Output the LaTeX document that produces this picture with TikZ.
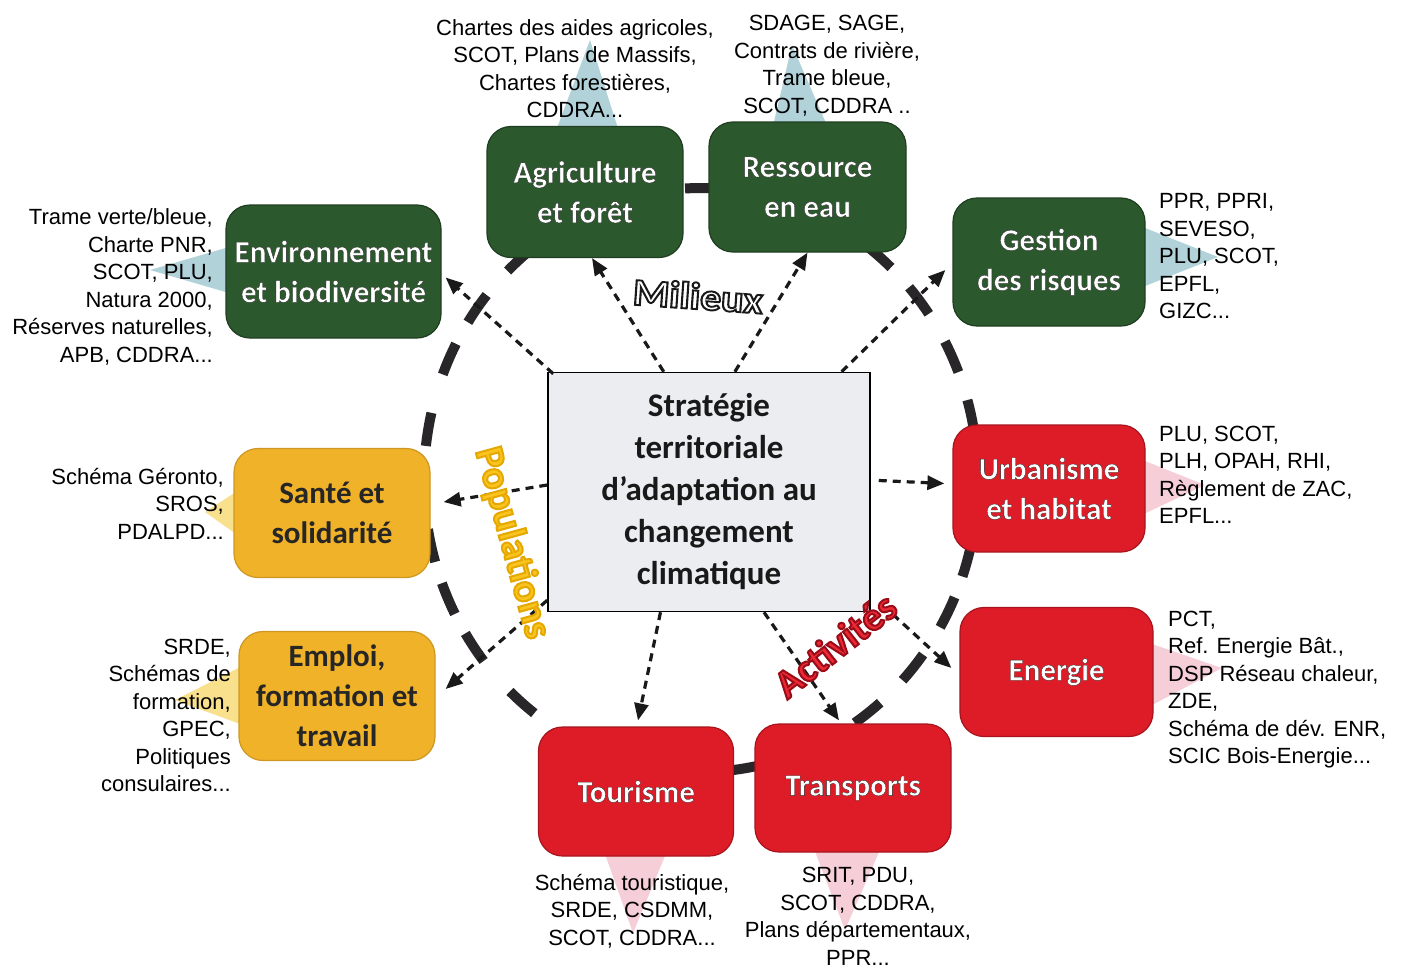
\documentclass[tikz,border=0pt]{standalone}
\usepackage{fontspec}
\setmainfont{Liberation Sans}
\newfontfamily\carl{Carlito}
\newfontfamily\lblfont{Carlito}[BoldFeatures={FakeBold=5}]
\newfontfamily\nfont{Carlito}[BoldFeatures={FakeBold=1}]
\usetikzlibrary{arrows.meta,calc}
\definecolor{grn}{RGB}{44,88,46}
\definecolor{rd}{RGB}{222,28,40}
\definecolor{ylw}{RGB}{240,178,40}
\definecolor{cblue}{RGB}{178,210,218}
\definecolor{cpink}{RGB}{246,206,216}
\definecolor{cyel}{RGB}{249,224,140}
\definecolor{cfill}{RGB}{236,237,241}
\definecolor{dashc}{RGB}{40,38,40}
\newcommand\strk[1]{\special{pdf:literal direct #1 RG}}
\newcommand\wo[1]{\strk{0.15 0.15 0.15}#1}
\begin{document}
\begin{tikzpicture}[x=1pt,y=-1pt,
  nbox/.style={rounded corners=24pt, line width=1.2pt, inner sep=2pt, align=center,
    font=\carl\bfseries\fontsize{31}{40}\selectfont},
  gbox/.style={nbox, fill=grn, draw=grn!70!black, text=white, font=\nfont\bfseries\fontsize{31}{40}\selectfont},
  rbox/.style={nbox, fill=rd, draw=rd!75!black, text=white, font=\nfont\bfseries\fontsize{31}{40}\selectfont},
  ybox/.style={nbox, fill=ylw, draw=ylw!85!black, text=black!85},
  ctext/.style={font=\fontsize{22}{27.5}\selectfont, inner sep=0pt, text=black},
  arr/.style={line width=3.2pt, draw=black!90, dash pattern=on 8pt off 6pt,
    -{Triangle[length=17pt,width=14pt]}},
  dsh/.style={line width=10pt, draw=dashc},
  callb/.style={fill=cblue},
  callp/.style={fill=cpink},
  cally/.style={fill=cyel}]
\useasboundingbox (0,0) rectangle (1401,969);
\fill[white] (0,0) rectangle (1401,969);

% callout wedges
\fill[callb] (545,160) -- (628,160) -- (590,40) -- cycle;
\fill[callb] (765,160) -- (842,160) -- (792,45) -- cycle;
\fill[callb] (260,238) -- (260,302) -- (150,270) -- cycle;
\fill[callb] (1110,214) -- (1110,300) -- (1218,257) -- cycle;
\fill[callp] (1110,447) -- (1110,530) -- (1205,485) -- cycle;
\fill[callp] (1120,633) -- (1120,722) -- (1222,668) -- cycle;
\fill[callp] (593,820) -- (680,820) -- (633,933) -- cycle;
\fill[callp] (803,820) -- (893,820) -- (845,930) -- cycle;
\fill[cally] (270,470) -- (270,558) -- (205,512) -- cycle;
\fill[cally] (270,652) -- (270,735) -- (175,700) -- cycle;

% dashed ring
\foreach \t in {90,103,116,131,144,155.5,170,181.5,193,204,215,229.7,243,256,268,280,293,307,320,333,344,0.5,12.6,25,38,50,63,76}{
  \pgfmathsetmacro\ta{\t-3.3}
  \pgfmathsetmacro\tb{\t+3.3}
  \draw[dsh] plot[domain=\ta:\tb, samples=6] ({701+277*cos(\x)},{480-292*sin(\x)});
}

% nodes
\node[draw=black, line width=1.5pt, fill=cfill, minimum width=322pt, minimum height=239pt,
  align=center, font=\carl\bfseries\fontsize{33}{42}\selectfont, text=black!90] (cbox) at (709,492)
  {Stratégie\\territoriale\\d’adaptation au\\changement\\climatique};
\node[gbox, minimum width=196pt, minimum height=131pt] (agri) at (585,192) {\wo{Agriculture}\\\wo{et forêt}};
\node[gbox, minimum width=197pt, minimum height=130pt] (res) at (807.5,187) {\wo{Ressource}\\\wo{en eau}};
\node[gbox, minimum width=215pt, minimum height=133pt] (env) at (333.5,271.5) {\wo{Environnement}\\\wo{et biodiversité}};
\node[gbox, minimum width=192pt, minimum height=128pt] (gest) at (1049,262) {\wo{Gestion}\\\wo{des risques}};
\node[rbox, minimum width=192pt, minimum height=127pt] (urb) at (1049,488.5) {\wo{Urbanisme}\\\wo{et habitat}};
\node[rbox, minimum width=193pt, minimum height=129pt] (ener) at (1056.5,672) {\wo{Energie}};
\node[rbox, minimum width=196pt, minimum height=128pt] (trans) at (853,788) {\wo{Transports}};
\node[rbox, minimum width=195pt, minimum height=129pt] (tour) at (636,791.5) {\wo{Tourisme}};
\node[ybox, minimum width=196pt, minimum height=129pt] (emp) at (337,696) {Emploi,\\formation et\\travail};
\node[ybox, minimum width=196pt, minimum height=129pt] (sante) at (332,513) {Santé et\\solidarité};

% callout texts
\node[ctext, align=center] (tagri) at (575,68.5) {Chartes des aides agricoles,\\SCOT, Plans de Massifs,\\Chartes forestières,\\CDDRA...};
\node[ctext, align=center] (tres) at (827,65.5) {SDAGE, SAGE,\\Contrats de rivière,\\Trame bleue,\\SCOT, CDDRA ..};
\node[ctext, align=right, anchor=east] (tenv) at (213,287) {Trame verte/bleue,\\Charte PNR,\\SCOT, PLU,\\Natura 2000,\\Réserves naturelles,\\APB, CDDRA...};
\node[ctext, align=left, anchor=west] (tgest) at (1159,256.5) {PPR, PPRI,\\SEVESO,\\PLU, SCOT,\\EPFL,\\GIZC...};
\node[ctext, align=left, anchor=west] (turb) at (1159,475) {PLU, SCOT,\\PLH, OPAH, RHI,\\Règlement de ZAC,\\EPFL...};
\node[ctext, align=left, anchor=west] (tener) at (1168,689.5) {PCT,\\Ref. Energie Bât.,\\DSP Réseau chaleur,\\ZDE,\\Schéma de dév. ENR,\\SCIC Bois-Energie...};
\node[ctext, align=right, anchor=east] (tsante) at (224,503.5) {Schéma Géronto,\\SROS,\\PDALPD...};
\node[ctext, align=right, anchor=east] (temp) at (231,715.5) {SRDE,\\Schémas de\\formation,\\GPEC,\\Politiques\\consulaires...};
\node[ctext, align=center] (ttour) at (632,911) {Schéma touristique,\\SRDE, CSDMM,\\SCOT, CDDRA...};
\node[ctext, align=center] (ttrans) at (858,916.5) {SRIT, PDU,\\SCOT, CDDRA,\\Plans départementaux,\\PPR...};

% arrows
\draw[arr] ($(cbox.north west)+(6,2)$) -- ($(env.east)+(4,6)$);
\draw[arr] ($(cbox.north west)!0.36!(cbox.north east)$) -- ($(agri.south)+(7,0)$);
\draw[arr] ($(cbox.north west)!0.58!(cbox.north east)$) -- (res.south);
\draw[arr] ($(cbox.north west)!0.91!(cbox.north east)$) -- ($(gest.west)+(-7,8)$);
\draw[arr] ($(cbox.east |- urb.west)+(8,-8)$) -- ($(urb.west)+(-8,-5)$);
\draw[arr] ($(cbox.south east)+(22,2)$) -- ($(ener.west)+(-8,-4)$);
\draw[arr] ($(cbox.south west)!0.67!(cbox.south east)$) -- ($(trans.north)+(-14,-3)$);
\draw[arr] ($(cbox.south west)!0.35!(cbox.south east)$) -- ($(tour.north)+(2,-6)$);
\draw[arr] ($(cbox.south west)+(0,-12)$) -- ($(emp.east)+(10,-7)$);
\draw[arr] ($(cbox.west)+(0,-7)$) -- ($(sante.east)+(13,-11)$);

% group labels
\node[font=\lblfont\bfseries\fontsize{38}{40}\selectfont, text=white, rotate=-4, xscale=1.1] (mil) at (698,296)
  {\strk{0.1 0.1 0.1}Milieux};
\node[font=\lblfont\bfseries\fontsize{40}{42}\selectfont, text={rgb,255:red,250;green,196;blue,30}, rotate=-74.6] (pop) at (512,543)
  {\strk{0.9 0.66 0}Populations};
\node[font=\lblfont\bfseries\fontsize{40}{42}\selectfont, text={rgb,255:red,236;green,40;blue,52}, rotate=38] (act) at (835,645)
  {\strk{0.6 0.05 0.1}Activités};
\end{tikzpicture}
\end{document}
